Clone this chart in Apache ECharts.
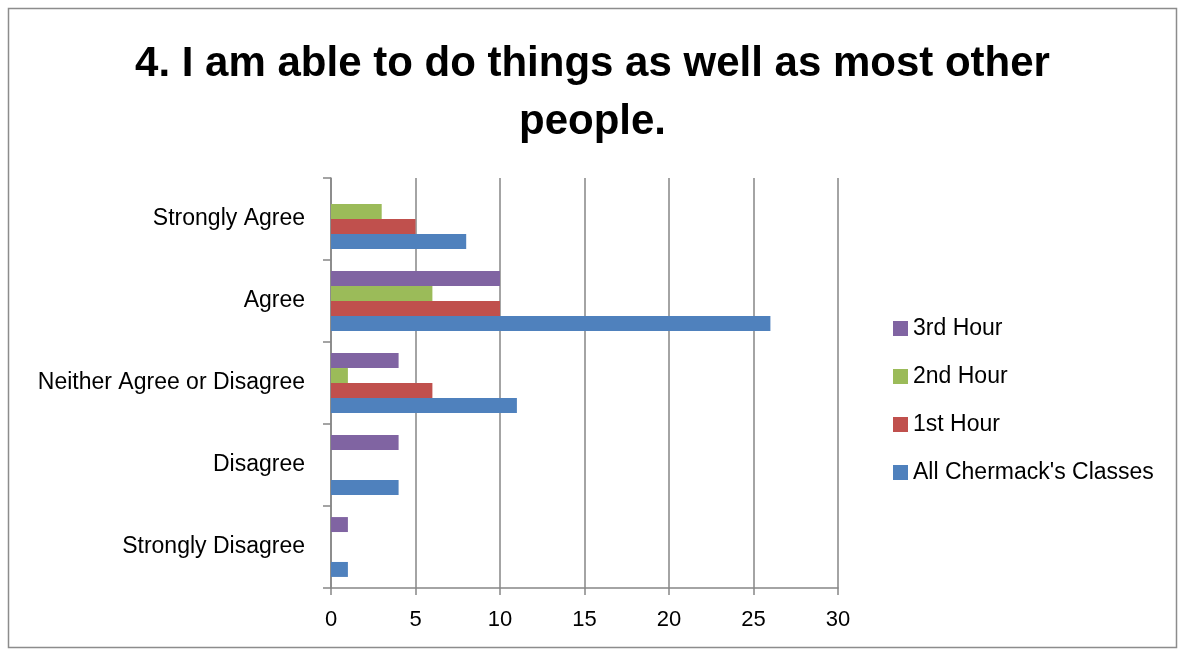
<!DOCTYPE html>
<html>
<head>
<meta charset="utf-8">
<script src="https://cdn.jsdelivr.net/npm/echarts@6/dist/echarts.min.js"></script>
<style>
  html, body { margin: 0; padding: 0; background: #fff; }
  #surveyChart { width: 1185px; height: 656px; }
</style>
</head>
<body>
<div id="surveyChart"></div>
<script>
// 答案类别（从下到上）
var categories = ['Strongly Disagree', 'Disagree', 'Neither Agree or Disagree', 'Agree', 'Strongly Agree'];
var allClasses = [1, 4, 11, 26, 8];
var firstHour = [0, 0, 6, 10, 5];
var secondHour = [0, 0, 1, 6, 3];
var thirdHour = [1, 4, 4, 10, 0];
var valueTicks = [0, 5, 10, 15, 20, 25, 30];

var font = '"Liberation Sans", Arial, sans-serif';
var gridColor = '#868686';

var chart = echarts.init(document.getElementById('surveyChart'));

function barSeries(name, data, color) {
  return {
    name: name,
    type: 'bar',
    data: data,
    barGap: '0%',
    barCategoryGap: '27%',
    itemStyle: { color: color }
  };
}

var option = {
  animation: false,
  graphic: [{
    type: 'rect',
    shape: { x: 8.5, y: 8.5, width: 1168, height: 639 },
    style: { fill: 'none', stroke: '#8c8c8c', lineWidth: 1.5 },
    silent: true
  }],
  title: {
    text: '4. I am able to do things as well as most other\npeople.',
    left: 'center',
    top: 30,
    textStyle: {
      fontFamily: font,
      fontWeight: 'bold',
      fontSize: 42,
      lineHeight: 58,
      color: '#000'
    }
  },
  legend: {
    orient: 'vertical',
    left: 893,
    top: 317,
    padding: 0,
    itemWidth: 15,
    itemHeight: 15,
    itemGap: 25,
    icon: 'rect',
    data: ['3rd Hour', '2nd Hour', '1st Hour', "All Chermack's Classes"],
    textStyle: { fontFamily: font, fontSize: 23, color: '#000' }
  },
  grid: {
    left: 331,
    right: 347,
    top: 178,
    bottom: 68,
    containLabel: false
  },
  xAxis: {
    type: 'value',
    min: 0,
    max: 30,
    interval: 5,
    axisLine: { show: true, lineStyle: { color: gridColor, width: 1.5 } },
    axisTick: { show: true, length: 7, lineStyle: { color: gridColor, width: 1.5 } },
    splitLine: { show: true, lineStyle: { color: gridColor, width: 1.5 } },
    axisLabel: {
      fontFamily: font,
      fontSize: 22,
      color: '#000',
      margin: 21,
      formatter: function (v) { return valueTicks.indexOf(v) >= 0 ? String(v) : ''; }
    }
  },
  yAxis: {
    type: 'category',
    data: categories,
    axisLine: { show: true, lineStyle: { color: gridColor, width: 1.5 } },
    axisTick: { show: true, length: 8, lineStyle: { color: gridColor, width: 1.5 } },
    axisLabel: {
      fontFamily: font,
      fontSize: 23,
      color: '#000',
      margin: 26
    }
  },
  // ECharts 横向柱状图：第一个系列在最上面
  series: [
    barSeries('3rd Hour', thirdHour, '#8064A2'),
    barSeries('2nd Hour', secondHour, '#9BBB59'),
    barSeries('1st Hour', firstHour, '#C0504D'),
    barSeries("All Chermack's Classes", allClasses, '#4F81BD')
  ]
};

chart.setOption(option);
</script>
</body>
</html>
